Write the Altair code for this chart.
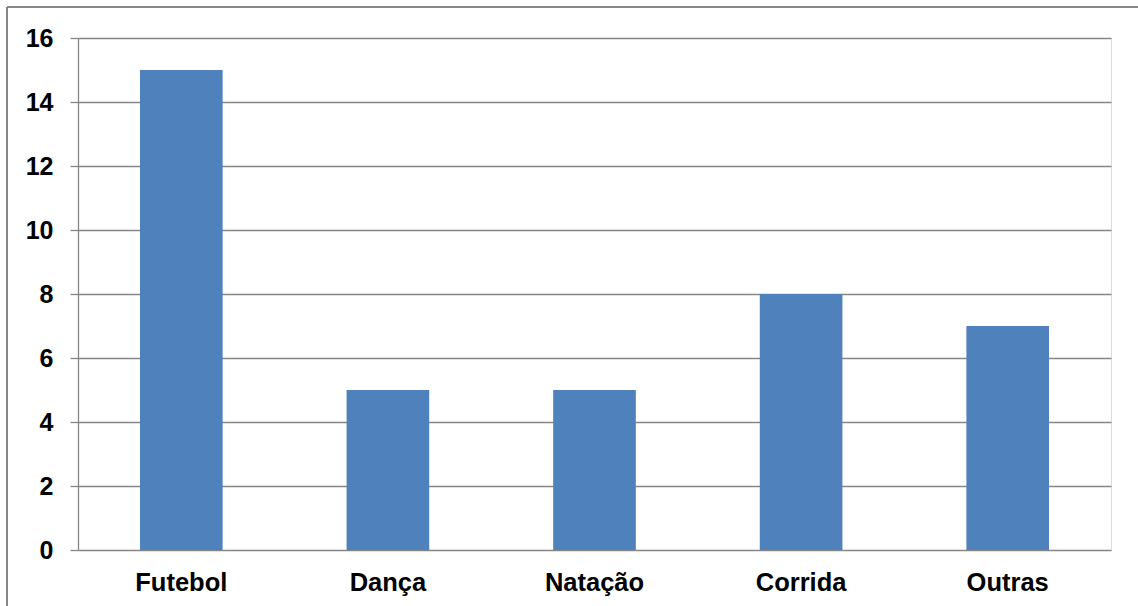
import altair as alt
import pandas as pd

categorias = ["Futebol", "Dança", "Natação", "Corrida", "Outras"]
valores = [15, 5, 5, 8, 7]

df = pd.DataFrame({"cat": categorias, "val": valores})

W, H = 1033, 512

bars = alt.Chart(df).mark_bar(color="#4F81BD").encode(
    x=alt.X("cat:N", sort=categorias, title=None,
            scale=alt.Scale(paddingInner=0.6, paddingOuter=0.3),
            axis=alt.Axis(labelAngle=0, labelFont="Liberation Sans", labelFontSize=25.5,
                          labelFontWeight="bold", labelColor="#000000", labelPadding=20,
                          ticks=False, domain=False, grid=False)),
    y=alt.Y("val:Q", title=None, scale=alt.Scale(domain=[0, 16]),
            axis=alt.Axis(values=list(range(0, 17, 2)), labelFont="Liberation Sans",
                          labelFontSize=25, labelFontWeight="bold", labelColor="#000000",
                          labelPadding=17, tickSize=8, tickColor="#868686",
                          domainColor="#868686", gridColor="#868686", gridWidth=1.3,
                          domainWidth=1.3, tickWidth=1.3)),
)

border_top = alt.Chart(df).mark_rule(color="#868686", strokeWidth=1.5).encode(
    x=alt.value(-71), x2=alt.value(1100), y=alt.value(-31))
border_left = alt.Chart(df).mark_rule(color="#868686", strokeWidth=1.5).encode(
    x=alt.value(-71), y=alt.value(-31), y2=alt.value(600))

chart = alt.layer(bars, border_top, border_left).properties(
    width=W, height=H,
    padding={"left": 78, "top": 38, "right": 27, "bottom": 56},
    autosize=alt.AutoSizeParams(type="none"),
).configure_view(stroke=None).configure(background="white")

chart.save("out.html", embed_options={"renderer": "svg", "actions": False})
